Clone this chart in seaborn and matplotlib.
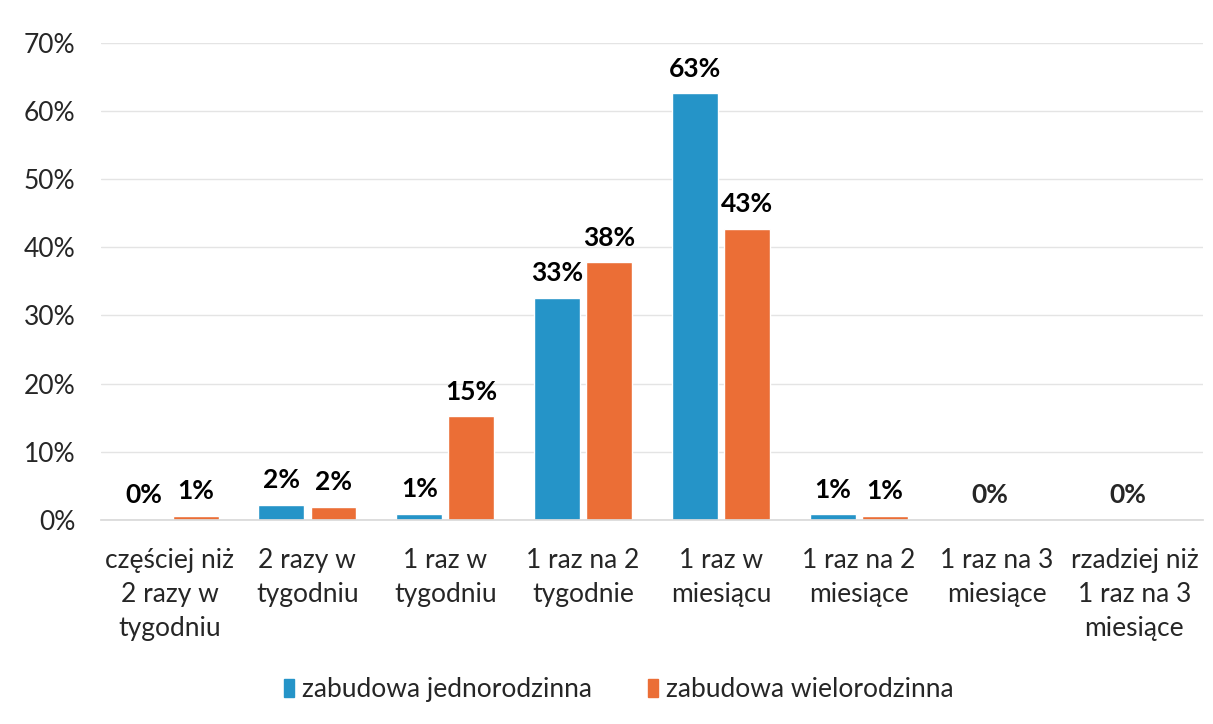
import matplotlib
matplotlib.use('Agg')
from matplotlib import pyplot as plt
import pandas as pd
import seaborn as sns

# %% Data
categories = [
    'częściej niż\n2 razy w\ntygodniu',
    '2 razy w\ntygodniu',
    '1 raz w\ntygodniu',
    '1 raz na 2\ntygodnie',
    '1 raz w\nmiesiącu',
    '1 raz na 2\nmiesiące',
    '1 raz na 3\nmiesiące',
    'rzadziej niż\n1 raz na 3\nmiesiące',
]
series = ['zabudowa jednorodzinna', 'zabudowa wielorodzinna']
jednorodzinna = [0.0, 2.2, 0.9, 32.6, 62.6, 0.8, 0.0, 0.0]
wielorodzinna = [0.6, 1.9, 15.2, 37.8, 42.7, 0.6, 0.0, 0.0]
yticks = [0, 10, 20, 30, 40, 50, 60, 70]

colors = ['#2594C8', '#EB6E36']
FS = 19

df = pd.DataFrame({
    'kategoria': categories * 2,
    'seria': [series[0]] * len(categories) + [series[1]] * len(categories),
    'wartosc': jednorodzinna + wielorodzinna,
})

# %% Plot
sns.set_theme(style='white')
plt.rcParams['font.family'] = ['Lato', 'Open Sans', 'DejaVu Sans']

fig = plt.figure(figsize=(12.13, 7.24), dpi=100)
ax = fig.add_axes([0.083, 0.282, 0.909, 0.659])

sns.barplot(data=df, x='kategoria', y='wartosc', hue='seria', order=categories,
            hue_order=series, palette=colors, width=0.756, gap=0.12,
            saturation=1, ax=ax, legend=False)

# categories where both series are empty get a single centred 0%
both_empty = [a == 0 and b == 0 for a, b in zip(jednorodzinna, wielorodzinna)]
for cont in ax.containers:
    labels = ['' if e else f'{b.get_height():.0f}%' for b, e in zip(cont, both_empty)]
    ax.bar_label(cont, labels=labels, padding=9, fontsize=FS,
                 fontweight='bold', color='black')
for i, e in enumerate(both_empty):
    if e:
        ax.annotate('0%', (i - 0.05, 0), xytext=(0, 9), textcoords='offset points',
                    ha='center', va='bottom', fontsize=FS, fontweight='bold')

ax.set_ylim(0, 70)
ax.set_xlim(-0.5, len(categories) - 0.5)
ax.set_yticks(yticks)
ax.set_yticklabels([f'{t}%' for t in yticks], fontsize=FS)
ax.tick_params(axis='y', length=0, pad=18)
ax.tick_params(axis='x', length=0, pad=20, labelsize=FS)
for lbl in ax.get_xticklabels():
    lbl.set_linespacing(1.45)
ax.set_xlabel('')
ax.set_ylabel('')
ax.grid(axis='y', color='#E4E4E4', linewidth=1)
ax.set_axisbelow(True)
sns.despine(ax=ax, left=True, top=True, right=True)
ax.spines['bottom'].set_color('#D9D9D9')

handles = [plt.Rectangle((0, 0), 1, 1, color=c) for c in colors]
fig.legend(handles, series, loc='center', bbox_to_anchor=(0.51, 0.047), ncol=2,
           frameon=False, fontsize=FS, handlelength=0.4, handleheight=0.7,
           handletextpad=0.3, columnspacing=2.1)

fig.savefig('out.png', dpi=100)
